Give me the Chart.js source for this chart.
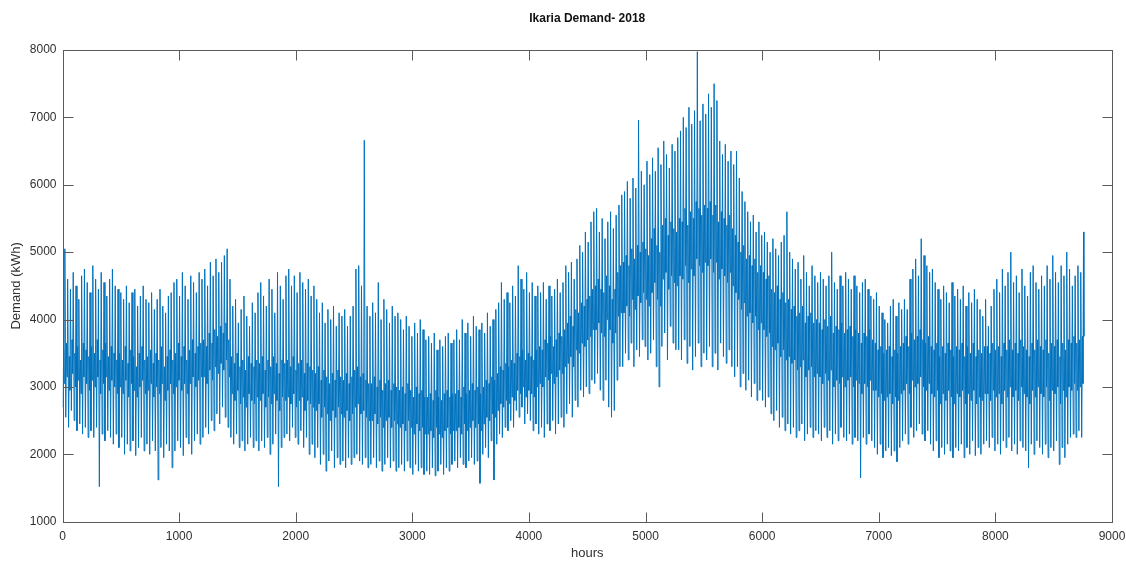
<!DOCTYPE html>
<html>
<head>
<meta charset="utf-8">
<title>Ikaria Demand- 2018</title>
<script src="https://cdn.jsdelivr.net/npm/chart.js@4.4.1/dist/chart.umd.min.js"></script>
<style>
  html, body { margin: 0; padding: 0; background: #ffffff; }
  #wrap { width: 1126px; height: 563px; }
</style>
</head>
<body>
<div id="wrap"><canvas id="demand" width="1126" height="563"></canvas></div>
<script>
// Hourly demand, 2018, summarised per day (kWh): night trough, morning level,
// afternoon level and evening peak.
const dailyTrough = [
  2700, 2550, 2400, 2650, 2500, 2350, 2450, 2300, 2400, 2250,
  2350, 2250, 2400, 1520, 2300, 2200, 2350, 2250, 2150, 2300,
  2100, 2250, 2000, 2150, 2050, 2200, 1980, 2100, 2250, 2050,
  2150, 2000, 2200, 2050, 1620, 2100, 1950, 2150, 2050, 1800,
  2050, 2200, 2100, 1980, 2250, 2150, 2000, 2200, 2300, 2150,
  2250, 2400, 2300, 2500, 2350, 2600, 2450, 2700, 2550, 2400,
  2250, 2150, 2300, 2100, 2200, 2050, 2150, 2250, 2100, 2200,
  2050, 2200, 2100, 2250, 2000, 2150, 2300, 1520, 2100, 2250,
  2300, 2200, 2400, 2250, 2150, 2350, 2100, 2250, 2000, 2150,
  1950, 2100, 1850, 2000, 1750, 1900, 2050, 1800, 1950, 1850,
  1900, 1800, 1950, 1850, 1950, 2000, 1900, 1850, 1950, 1800,
  1850, 1950, 1800, 1900, 1750, 1850, 1950, 1800, 1900, 1750,
  1800, 1850, 1750, 1900, 1800, 1700, 1850, 1750, 1800, 1700,
  1750, 1700, 1800, 1680, 1750, 1850, 1700, 1800, 1750, 1850,
  1900, 1800, 1950, 1850, 1800, 1900, 1950, 1850, 1900, 1570,
  2000, 2100, 1950, 2200, 1620, 2150, 2300, 2250, 2400, 2350,
  2500, 2400, 2650, 2550, 2700, 2450, 2600, 2500, 2350, 2450,
  2300, 2400, 2250, 2450, 2350, 2500, 2300, 2450, 2550, 2400,
  2600, 2750, 2550, 2800, 2700, 2950, 2850, 3000, 2900, 3100,
  3050, 3200, 2950, 2800, 3100, 2700, 2550, 2650, 3100, 3300,
  3300, 3500, 3400, 3650, 3300, 3550, 3450, 3700, 3600, 3400,
  3500, 3700, 3300, 3000, 3600, 3800, 3400, 3900, 3650, 3550,
  3550, 3400, 3700, 3350, 3600, 3250, 3450, 3650, 3300, 3500,
  3400, 3600, 3300, 3500, 3250, 3650, 3450, 3350, 3550, 3300,
  3150, 3300, 3000, 3200, 2950, 3100, 2850, 3050, 2800, 2950,
  2800, 2700, 2850, 2600, 2500, 2650, 2400, 2550, 2350, 2450,
  2300, 2400, 2250, 2350, 2450, 2200, 2300, 2400, 2250, 2350,
  2300, 2200, 2400, 2250, 2350, 2150, 2300, 2200, 2400, 2250,
  2200, 2300, 2150, 2250, 2200, 1650, 2250, 2150, 2300, 2200,
  2100, 2000, 2150, 1950, 2050, 2100, 1980, 2050, 1890, 2100,
  2200, 2300, 2150, 2400, 2250, 2350, 2450, 2300, 2200, 2350,
  2150, 2050, 2200, 1950, 2100, 2000, 2150, 2050, 1950, 2100,
  2050, 2150, 1950, 2100, 2000, 2200, 1980, 2100, 2000, 2150,
  2200, 2100, 2250, 2050, 2150, 2000, 2200, 2100, 2250, 2050,
  2150, 2000, 2200, 2100, 2050, 1800, 2150, 2000, 2200, 2100,
  2000, 2150, 1950, 2100, 2050, 2200, 1850, 2100, 1950, 2150,
  2250, 2300, 2250, 2350, 2250
];

const dailyMorning = [
  3550, 3650, 3450, 3700, 3500, 3600, 3400, 3650, 3550, 3450,
  3600, 3500, 3700, 3400, 3550, 3650, 3450, 3600, 3500, 3400,
  3500, 3400, 3600, 3350, 3550, 3450, 3300, 3500, 3600, 3400,
  3450, 3550, 3350, 3500, 3400, 3600, 3300, 3450, 3550, 3400,
  3500, 3650, 3450, 3600, 3400, 3550, 3700, 3500, 3600, 3650,
  3700, 3600, 3800, 3650, 3850, 3750, 3900, 3800, 3950, 3700,
  3450, 3350, 3500, 3300, 3400, 3250, 3450, 3350, 3300, 3400,
  3350, 3450, 3250, 3400, 3300, 3450, 3350, 3200, 3400, 3350,
  3400, 3300, 3450, 3250, 3350, 3400, 3200, 3350, 3300, 3250,
  3200, 3300, 3100, 3250, 3150, 3050, 3200, 3100, 3250, 3150,
  3100, 3200, 3050, 3150, 3250, 3300, 3150, 3200, 3100, 3050,
  3050, 3150, 3000, 3100, 2950, 3050, 3100, 2950, 3050, 3000,
  2950, 3000, 2900, 3050, 2950, 2850, 3000, 2900, 2950, 2850,
  2850, 2900, 2800, 2950, 2850, 2800, 2900, 2950, 2850, 2900,
  2900, 2950, 2850, 3000, 2900, 2950, 3050, 2950, 3000, 2900,
  3000, 3100, 3050, 3150, 3100, 3200, 3300, 3250, 3350, 3300,
  3400, 3350, 3500, 3450, 3550, 3400, 3500, 3450, 3400, 3550,
  3600, 3550, 3700, 3650, 3750, 3600, 3700, 3800, 3750, 3850,
  3950, 4050, 3900, 4150, 4100, 4250, 4200, 4300, 4350, 4450,
  4500, 4600, 4450, 4400, 4650, 4500, 4300, 4450, 4700, 4800,
  4850, 4950, 4800, 5050, 4900, 5100, 5000, 5150, 5050, 4950,
  5200, 5350, 5100, 5000, 5400, 5500, 5250, 5450, 5350, 5300,
  5500, 5450, 5650, 5400, 5600, 5500, 5750, 5650, 5550, 5700,
  5650, 5750, 5550, 5700, 5450, 5600, 5500, 5400, 5550, 5350,
  5250, 5150, 5000, 5100, 4900, 4950, 4800, 4900, 4700, 4800,
  4700, 4600, 4650, 4450, 4400, 4500, 4300, 4400, 4250, 4300,
  4150, 4200, 4050, 4100, 4200, 3950, 4050, 4100, 3950, 4000,
  3950, 3850, 4000, 3900, 4050, 3800, 3900, 3850, 3950, 3800,
  3850, 3900, 3750, 3850, 3800, 3650, 3800, 3750, 3850, 3700,
  3650, 3550, 3600, 3500, 3550, 3600, 3450, 3550, 3500, 3600,
  3650, 3750, 3600, 3800, 3700, 3750, 3850, 3700, 3650, 3750,
  3600, 3550, 3650, 3450, 3600, 3500, 3650, 3550, 3450, 3600,
  3550, 3650, 3450, 3600, 3500, 3650, 3450, 3550, 3500, 3600,
  3600, 3500, 3650, 3550, 3600, 3450, 3650, 3550, 3700, 3550,
  3650, 3500, 3700, 3600, 3550, 3450, 3650, 3550, 3700, 3600,
  3550, 3700, 3500, 3650, 3600, 3700, 3450, 3650, 3550, 3700,
  3650, 3750, 3650, 3700, 3750
];

const dailyAfternoon = [
  3050, 3150, 2950, 3200, 3000, 3100, 2900, 3150, 3050, 2950,
  3100, 3000, 3150, 2900, 3050, 3150, 2950, 3100, 3000, 2900,
  3000, 2900, 3100, 2850, 3050, 2950, 2850, 3000, 3100, 2900,
  2950, 3050, 2850, 3000, 2900, 3050, 2800, 2950, 3050, 2900,
  3000, 3100, 2950, 3050, 2900, 3050, 3150, 3000, 3100, 3150,
  3150, 3050, 3250, 3100, 3300, 3200, 3350, 3250, 3400, 3150,
  2900, 2800, 2950, 2750, 2850, 2700, 2900, 2800, 2750, 2850,
  2800, 2900, 2700, 2850, 2750, 2900, 2800, 2650, 2850, 2800,
  2850, 2750, 2900, 2700, 2800, 2850, 2650, 2800, 2750, 2700,
  2650, 2750, 2550, 2700, 2600, 2500, 2650, 2550, 2700, 2600,
  2550, 2650, 2500, 2600, 2700, 2750, 2600, 2650, 2550, 2500,
  2500, 2600, 2450, 2550, 2400, 2500, 2550, 2400, 2500, 2450,
  2400, 2450, 2350, 2500, 2400, 2300, 2450, 2350, 2400, 2300,
  2300, 2350, 2250, 2400, 2300, 2250, 2350, 2400, 2300, 2350,
  2350, 2400, 2300, 2450, 2350, 2400, 2500, 2400, 2450, 2350,
  2450, 2550, 2500, 2600, 2550, 2650, 2750, 2700, 2800, 2750,
  2850, 2800, 2950, 2900, 3000, 2850, 2950, 2900, 2850, 3000,
  3050, 3000, 3150, 3100, 3200, 3050, 3150, 3250, 3200, 3300,
  3350, 3450, 3300, 3550, 3500, 3650, 3600, 3700, 3750, 3850,
  3850, 3950, 3800, 3750, 4000, 3850, 3650, 3800, 4050, 4100,
  4100, 4200, 4050, 4300, 4150, 4350, 4250, 4400, 4300, 4200,
  4400, 4550, 4300, 4200, 4600, 4700, 4450, 4650, 4550, 4500,
  4650, 4600, 4800, 4550, 4750, 4650, 4900, 4800, 4700, 4850,
  4800, 4900, 4700, 4850, 4600, 4750, 4650, 4550, 4700, 4500,
  4400, 4300, 4150, 4250, 4050, 4100, 3950, 4050, 3850, 3950,
  3850, 3750, 3800, 3600, 3550, 3650, 3450, 3550, 3400, 3450,
  3350, 3400, 3250, 3300, 3400, 3150, 3250, 3300, 3150, 3200,
  3150, 3050, 3200, 3100, 3250, 3000, 3100, 3050, 3150, 3000,
  3100, 3150, 3000, 3100, 3050, 2900, 3050, 3000, 3100, 2950,
  2950, 2850, 2900, 2800, 2850, 2900, 2750, 2850, 2800, 2900,
  2950, 3050, 2900, 3100, 3000, 3050, 3150, 3000, 2950, 3050,
  2900, 2850, 2950, 2750, 2900, 2800, 2950, 2850, 2750, 2900,
  2850, 2950, 2750, 2900, 2800, 2950, 2750, 2850, 2800, 2900,
  2900, 2800, 2950, 2850, 2900, 2750, 2950, 2850, 3000, 2850,
  2950, 2800, 3000, 2900, 2850, 2750, 2950, 2850, 3000, 2900,
  2850, 3000, 2800, 2950, 2900, 3000, 2750, 2950, 2850, 3000,
  2950, 3050, 2950, 3000, 3050
];

const dailyPeak = [
  5050, 4600, 4450, 4700, 4500, 4300, 4650, 4750, 4550, 4400,
  4800, 4600, 4450, 4700, 4550, 4350, 4600, 4750, 4500, 4450,
  4400, 4300, 4500, 4250, 4400, 4450, 4200, 4350, 4500, 4300,
  4250, 4400, 4150, 4300, 4450, 4200, 4100, 4350, 4400, 4550,
  4600, 4350, 4700, 4500, 4300, 4650, 4550, 4400, 4700, 4600,
  4750, 4500, 4850, 4650, 4900, 4700, 4850, 4950, 5050, 4600,
  4200, 4300, 3950, 4150, 4350, 4050, 3900, 4250, 4100, 4400,
  4550, 4350, 4200, 4600, 4450, 4100, 4700, 4500, 4300, 4650,
  4750, 4500, 4650, 4400, 4700, 4550, 4450, 4600, 4350, 4500,
  4300, 4100, 4250, 3950, 4150, 4000, 4200, 3900, 4100, 4050,
  4150, 3900, 4050, 4200, 4750, 4800, 4500, 6660, 4200, 4050,
  4250, 4100, 4550, 4000, 4300, 4150, 3950, 4200, 4050, 4100,
  4000, 3850, 4050, 3900, 3750, 3950, 3800, 4000, 3850, 3700,
  3750, 3650, 3800, 3550, 3700, 3600, 3750, 3800, 3650, 3700,
  3850, 3700, 4000, 3800, 3950, 3750, 4050, 3900, 3850, 3950,
  3800, 4100, 3900, 4000, 4150, 4250, 4550, 4300, 4400, 4250,
  4500, 4350, 4800, 4600, 4450, 4700, 4400, 4550, 4350, 4500,
  4400, 4550, 4300, 4500, 4350, 4450, 4600, 4400, 4550, 4800,
  4700, 4850, 4600, 4900, 5100, 5000, 5300, 5150, 5450, 5600,
  5650, 5300, 5500, 5200, 5450, 5600, 5350, 5550, 5700, 5850,
  5900, 6050, 5800, 6100, 5950, 6960, 6200, 6000, 6350, 6150,
  6400, 6200, 6550, 6300, 6650, 6450, 6250, 6600, 6500, 6700,
  6800, 7000, 6850, 7150, 6900, 7100, 7975, 6950, 7200, 7050,
  7350, 7150, 7500, 7250, 6650, 6450, 6600, 6350, 6500, 6300,
  6500, 6100, 5900, 5750, 5600, 5450, 5550, 5300, 5450, 5250,
  5300, 5150, 5000, 5200, 5050, 4950, 5150, 5250, 5600, 5000,
  4900, 4750, 4850, 4600, 4950, 4700, 4500, 4800, 4650, 4550,
  4700, 4600, 4500, 4650, 5000, 4550, 4450, 4650, 4500, 4700,
  4600, 4450, 4650, 4500, 4400, 4550, 4600, 4450, 4350, 4300,
  4400, 4200, 4100, 4000, 3950, 4200, 4300, 4050, 4250, 4150,
  4300, 4150, 4600, 4750, 4900, 4650, 5200, 4950, 4800, 4700,
  4750, 4550, 4450, 4300, 4500, 4400, 4250, 4550, 4350, 4450,
  4300, 4500, 4200, 4400, 4250, 4450, 4300, 4150, 4050, 4300,
  3900, 4200, 4450, 4600, 4400, 4750, 4500, 4700, 5000, 4550,
  4650, 4400, 4750, 4500, 4350, 4700, 4800, 4550, 4450, 4650,
  4500, 4800, 4600, 4950, 4700, 4550, 4800, 4650, 5000, 4750,
  4500, 4650, 4800, 4700, 5300
];

// Last hour of the year
const yearEndValue = 3750;

const xTicks = [0, 1000, 2000, 3000, 4000, 5000, 6000, 7000, 8000, 9000];
const yTicks = [1000, 2000, 3000, 4000, 5000, 6000, 7000, 8000];

const chartTitle = 'Ikaria Demand- 2018';
const xTitle = 'hours';
const yTitle = 'Demand (kWh)';

// Hour of day for each reading in a day's profile
const slotTrough = 4, slotMorning = 10, slotAfternoon = 15, slotPeak = 20;

const points = [];
for (let d = 0; d < dailyPeak.length; d++) {
  const h0 = d * 24;
  points.push({ x: h0 + slotTrough, y: dailyTrough[d] });
  points.push({ x: h0 + slotMorning, y: dailyMorning[d] });
  points.push({ x: h0 + slotAfternoon, y: dailyAfternoon[d] });
  points.push({ x: h0 + slotPeak, y: dailyPeak[d] });
}
points.push({ x: dailyPeak.length * 24 - 1, y: yearEndValue });

const FONT = "'Liberation Sans', Arial, Helvetica, sans-serif";
const AXIS_COLOR = '#5a5a5a';
const TEXT_COLOR = '#303030';
const TICK_LEN = 10;

// Box around the plot with inward tick marks on all four sides
const axesBox = {
  id: 'axesBox',
  afterDraw(chart) {
    const { ctx, chartArea: a, scales } = chart;
    const snap = v => Math.round(v) + 0.5;
    const L = snap(a.left), R = snap(a.right), T = snap(a.top), B = snap(a.bottom);
    ctx.save();
    ctx.strokeStyle = AXIS_COLOR;
    ctx.lineWidth = 1;
    ctx.beginPath();
    scales.x.ticks.forEach(t => {
      const px = snap(scales.x.getPixelForValue(t.value));
      ctx.moveTo(px, B);
      ctx.lineTo(px, B - TICK_LEN);
      ctx.moveTo(px, T);
      ctx.lineTo(px, T + TICK_LEN);
    });
    scales.y.ticks.forEach(t => {
      const py = snap(scales.y.getPixelForValue(t.value));
      ctx.moveTo(L, py);
      ctx.lineTo(L + TICK_LEN, py);
      ctx.moveTo(R, py);
      ctx.lineTo(R - TICK_LEN, py);
    });
    ctx.stroke();
    ctx.strokeRect(L, T, R - L, B - T);
    ctx.restore();
  }
};

new Chart(document.getElementById('demand'), {
  type: 'line',
  data: {
    datasets: [{
      data: points,
      borderColor: '#0072BD',
      borderWidth: 1,
      pointRadius: 0,
      tension: 0,
      fill: false
    }]
  },
  options: {
    responsive: false,
    devicePixelRatio: 1,
    animation: false,
    parsing: false,
    normalized: true,
    layout: { padding: { left: 0, right: 14, top: 0, bottom: 0 } },
    plugins: {
      legend: { display: false },
      tooltip: { enabled: false },
      title: {
        display: true,
        fullSize: false,
        text: chartTitle,
        color: '#111111',
        font: { family: FONT, size: 12, weight: 'bold' },
        padding: { top: 11, bottom: 24.6 }
      }
    },
    scales: {
      x: {
        type: 'linear',
        min: xTicks[0],
        max: xTicks[xTicks.length - 1],
        afterBuildTicks(scale) { scale.ticks = xTicks.map(v => ({ value: v })); },
        afterFit(scale) {
          scale.height = 41.3;
          scale.paddingLeft = 0;
          scale.paddingRight = 0;
        },
        grid: { display: false, drawTicks: false },
        border: { display: false },
        ticks: {
          padding: 8,
          color: TEXT_COLOR,
          font: { family: FONT, size: 12 },
          maxRotation: 0,
          callback: v => String(v)
        },
        title: {
          display: true,
          text: xTitle,
          color: TEXT_COLOR,
          font: { family: FONT, size: 13 },
          padding: { top: 0, bottom: 2 }
        }
      },
      y: {
        type: 'linear',
        min: yTicks[0],
        max: yTicks[yTicks.length - 1],
        afterBuildTicks(scale) { scale.ticks = yTicks.map(v => ({ value: v })); },
        afterFit(scale) {
          scale.width = 62.5;
          scale.paddingTop = 0;
          scale.paddingBottom = 0;
        },
        grid: { display: false, drawTicks: false },
        border: { display: false },
        ticks: {
          padding: 6,
          color: TEXT_COLOR,
          font: { family: FONT, size: 12 },
          callback: v => String(v)
        },
        title: {
          display: true,
          text: yTitle,
          color: TEXT_COLOR,
          font: { family: FONT, size: 13 },
          padding: { top: 8.5, bottom: 0 }
        }
      }
    }
  },
  plugins: [axesBox]
});
</script>
</body>
</html>
